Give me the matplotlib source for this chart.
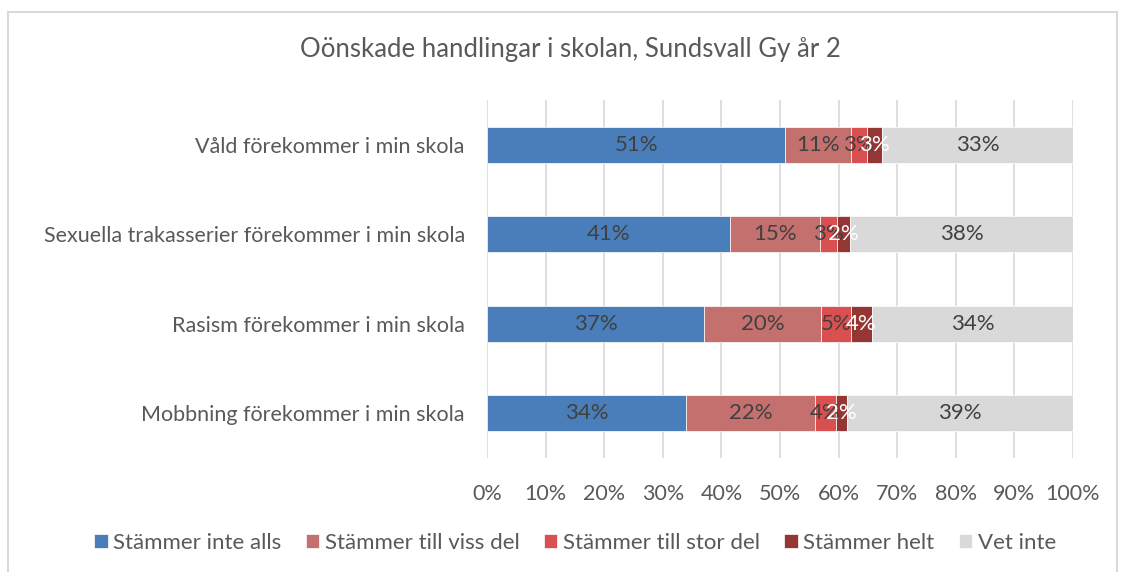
import matplotlib.pyplot as plt
from matplotlib.patches import Rectangle

plt.rcParams['font.family'] = ['Lato', 'DejaVu Sans']

categories = ['Våld förekommer i min skola',
              'Sexuella trakasserier förekommer i min skola',
              'Rasism förekommer i min skola',
              'Mobbning förekommer i min skola']
series_names = ['Stämmer inte alls', 'Stämmer till viss del', 'Stämmer till stor del',
                'Stämmer helt', 'Vet inte']
inte_alls = [50.9, 41.4, 37.1, 34.0]
viss_del = [11.2, 15.4, 19.9, 21.9]
stor_del = [2.7, 3.0, 5.1, 3.6]
helt = [2.6, 2.2, 3.6, 1.9]
vet_inte = [32.6, 38.0, 34.3, 38.6]
ticks = [0, 10, 20, 30, 40, 50, 60, 70, 80, 90, 100]

colors = ['#4A7EBB', '#C4706E', '#DA5050', '#943634', '#D9D9D9']
label_colors = ['#404040', '#404040', '#404040', 'white', '#404040']
series = [inte_alls, viss_del, stor_del, helt, vet_inte]

fig = plt.figure(figsize=(11.22, 5.72), dpi=100)
fig.patches.append(Rectangle((8 / 1122, -0.05), 1109 / 1122, 1.05 - 12 / 572,
                             transform=fig.transFigure, fill=False,
                             edgecolor='#D9D9D9', linewidth=1.5))
ax = fig.add_axes([487 / 1122, 1 - 458 / 572, 586 / 1122, 358 / 572])

y = list(range(len(categories)))
left = [0] * len(categories)
for name, vals, c, lc in zip(series_names, series, colors, label_colors):
    ax.barh(y, vals, left=left, height=0.4, color=c, label=name, zorder=3,
            edgecolor='white', linewidth=0.5)
    for yi, v, l in zip(y, vals, left):
        ax.text(l + v / 2, yi, f'{v:.0f}%', ha='center', va='center',
                color=lc, fontsize=16, zorder=4)
    left = [a + b for a, b in zip(left, vals)]

ax.set_xlim(0, 100)
ax.set_ylim(3.5, -0.5)
ax.set_xticks(ticks)
ax.set_xticklabels([f'{t}%' for t in ticks])
ax.set_yticks(y)
ax.set_yticklabels(categories)
ax.tick_params(axis='both', length=0, labelsize=15.5, labelcolor='#595959')
ax.tick_params(axis='x', pad=19)
ax.tick_params(axis='y', pad=16)
ax.grid(axis='x', color='#D9D9D9', linewidth=1.2, zorder=0)
for s in ax.spines.values():
    s.set_visible(False)

fig.text(570 / 1122, 1 - 50 / 572, 'Oönskade handlingar i skolan, Sundsvall Gy år 2',
         ha='center', va='center', fontsize=18.5, color='#595959')

fig.legend(loc='center', bbox_to_anchor=(575 / 1122, 1 - 543 / 572), ncol=5,
           frameon=False, fontsize=16, labelcolor='#595959', handlelength=0.6,
           handleheight=0.6, handletextpad=0.25, columnspacing=1.1)

fig.savefig('out.png', dpi=100)
